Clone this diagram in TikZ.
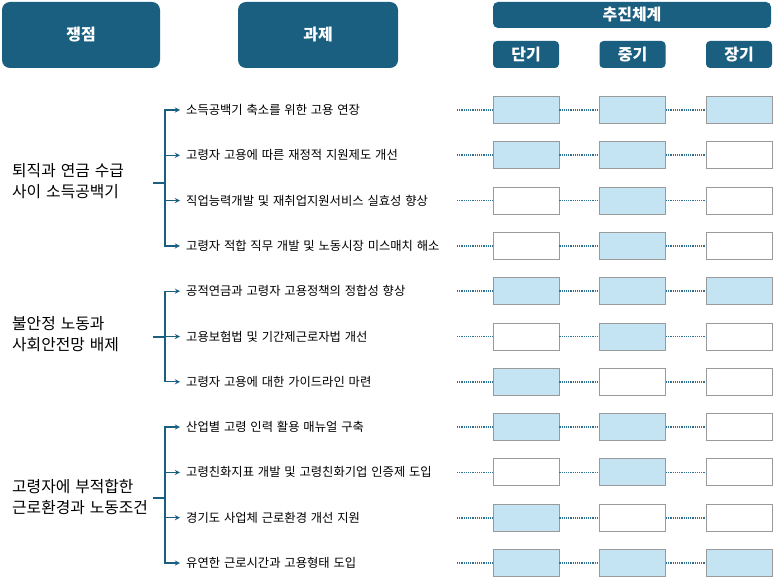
\documentclass[tikz,border=0pt]{standalone}
\usepackage{fontspec}
\setmainfont{Noto Sans CJK KR}[WordSpace=1.4]
\definecolor{navy}{HTML}{1A5E80}
\definecolor{dotblue}{HTML}{2E7194}
\definecolor{sky}{HTML}{C4E4F4}
\definecolor{cellgray}{HTML}{9A9A9A}
\begin{document}
\begin{tikzpicture}[x=1pt, y=-1pt, >=stealth, font=\fontsize{12.3}{14}\selectfont,
	head/.style={fill=navy, text=white, inner sep=0pt, rounded corners=8pt, font=\fontsize{16}{18}\selectfont\bfseries},
	cell/.style={draw=cellgray, line width=0.9pt, minimum width=66pt, minimum height=27pt, inner sep=0pt},
	link/.style={draw=navy, line width=1.3pt},
	dots/.style={draw=dotblue, line width=1.6pt, dash pattern=on 1.2pt off 1pt}]
				\useasboundingbox (0,0) rectangle (773,580);
				\node[head, minimum width=158pt, minimum height=66pt] (I) at (81,35) {쟁점};
				\node[head, minimum width=160pt, minimum height=66pt] (T) at (318,35) {과제};
				\node[head, minimum width=278pt, minimum height=26pt, rounded corners=5pt] (P) at (632,15) {추진체계};
				\foreach \n/\t/\x in {S/단기/526, M/중기/632.5, L/장기/739}{
				\node[head, minimum width=66pt, minimum height=27pt, rounded corners=4pt] (\n) at (\x,54.5) {\t};
				}
				\foreach \i/\t/\a/\b/\c in {1/소득공백기 축소를 위한 고용 연장/sky/sky/sky,
					2/고령자 고용에 따른 재정적 지원제도 개선/sky/sky/white,
					3/직업능력개발 및 재취업지원서비스 실효성 향상/white/sky/white,
					4/고령자 적합 직무 개발 및 노동시장 미스매치 해소/white/sky/white,
					5/공적연금과 고령자 고용정책의 정합성 향상/sky/sky/sky,
					6/고용보험법 및 기간제근로자법 개선/white/sky/white,
					7/고령자 고용에 대한 가이드라인 마련/sky/white/white,
					8/산업별 고령 인력 활용 매뉴얼 구축/sky/sky/white,
					9/고령친화지표 개발 및 고령친화기업 인증제 도입/white/sky/white,
					10/경기도 사업체 근로환경 개선 지원/sky/white/white,
					11/유연한 근로시간과 고용형태 도입/sky/sky/sky}{
				\pgfmathsetmacro\y{110+(\i-1)*45.3}
				\path (186,\y) node[anchor=west, inner sep=0pt] (t\i) {\t} (457,\y) coordinate (d\i);
				\node[cell, fill=\a] (s\i) at (526,\y) {};
				\node[cell, fill=\b] (m\i) at (632.5,\y) {};
				\node[cell, fill=\c] (l\i) at (739,\y) {};
				\draw[dots] (d\i) -- (s\i.west) (s\i.east) -- (m\i.west) (m\i.east) -- (l\i.west);
				}
				\foreach \g/\y/\ly/\first/\last/\txt in {1/183/181/1/4/{퇴직과 연금 수급\\사이 소득공백기},
					2/337/334/5/7/{불안정 노동과\\사회안전망 배제},
					3/498/497/8/11/{고령자에 부적합한\\근로환경과 노동조건}}{
				\node[anchor=west, align=left, inner sep=0pt, font=\fontsize{15.8}{20.5}\selectfont] (g\g) at (12,\ly) {\txt};
				\path (153,\y) coordinate (k\g) (165,\y) coordinate (j\g);
				\draw[link] (k\g) -- (j\g);
				\foreach \r in {\first,...,\last}
				\draw[link, ->, shorten >=6pt] (j\g) |- (t\r.west);
				}
			\end{tikzpicture}
\end{document}
